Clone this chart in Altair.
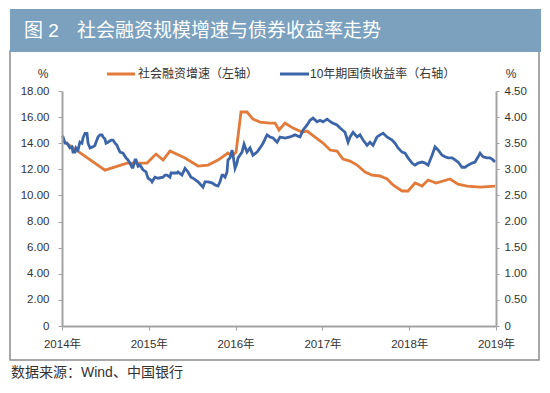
import altair as alt
import pandas as pd

# ---- data ----
# Social financing growth (left axis, %), decimal year positions
orange_t = [2014.000, 2014.495, 2014.749, 2014.979, 2015.083, 2015.164, 2015.244, 2015.417,
            2015.567, 2015.682, 2015.797, 2015.912, 2015.959, 2016.005, 2016.062, 2016.131,
            2016.200, 2016.281, 2016.396, 2016.454, 2016.500, 2016.569, 2016.661, 2016.765,
            2016.823, 2016.915, 2017.007, 2017.088, 2017.168, 2017.237, 2017.318, 2017.399,
            2017.491, 2017.571, 2017.664, 2017.744, 2017.813, 2017.917, 2017.986, 2018.067,
            2018.147, 2018.217, 2018.309, 2018.470, 2018.562, 2018.666, 2018.816, 2018.988]
orange_v = [14.24, 11.94, 12.48, 12.48, 13.17, 12.71, 13.40, 12.86,
            12.25, 12.33, 12.71, 13.25, 13.02, 13.32, 16.39, 16.39,
            15.85, 15.62, 15.54, 15.54, 15.01, 15.54, 15.16, 14.85,
            14.93, 14.47, 14.01, 13.48, 13.40, 12.79, 12.63, 12.33,
            11.79, 11.56, 11.49, 11.26, 10.80, 10.34, 10.34, 10.95,
            10.72, 11.18, 10.95, 11.26, 10.87, 10.72, 10.64, 10.72]

# 10-year government bond yield (right axis, %)
blue_t = [2014.000, 2014.012, 2014.035, 2014.058, 2014.092, 2014.115, 2014.127, 2014.150,
          2014.161, 2014.184, 2014.207, 2014.230, 2014.242, 2014.265, 2014.288, 2014.300,
          2014.323, 2014.357, 2014.380, 2014.392, 2014.415, 2014.438, 2014.461, 2014.472,
          2014.495, 2014.507, 2014.530, 2014.565, 2014.588, 2014.611, 2014.634, 2014.645,
          2014.668, 2014.703, 2014.737, 2014.760, 2014.783, 2014.806, 2014.818, 2014.841,
          2014.853, 2014.876, 2014.899, 2014.933, 2014.968, 2014.979, 2014.991, 2015.025,
          2015.037, 2015.071, 2015.106, 2015.164, 2015.187, 2015.210, 2015.244, 2015.256,
          2015.325, 2015.336, 2015.382, 2015.417, 2015.452, 2015.486, 2015.509, 2015.544,
          2015.567, 2015.601, 2015.624, 2015.647, 2015.682, 2015.728, 2015.763, 2015.797,
          2015.820, 2015.843, 2015.855, 2015.878, 2015.901, 2015.912, 2015.935, 2015.959,
          2015.970, 2015.993, 2016.016, 2016.028, 2016.074, 2016.097, 2016.131, 2016.166,
          2016.200, 2016.247, 2016.281, 2016.316, 2016.362, 2016.396, 2016.431, 2016.477,
          2016.512, 2016.569, 2016.627, 2016.684, 2016.742, 2016.776, 2016.823, 2016.857,
          2016.892, 2016.938, 2016.972, 2017.007, 2017.053, 2017.111, 2017.168, 2017.203,
          2017.260, 2017.295, 2017.318, 2017.353, 2017.399, 2017.433, 2017.468, 2017.514,
          2017.548, 2017.583, 2017.629, 2017.664, 2017.698, 2017.744, 2017.802, 2017.836,
          2017.871, 2017.917, 2017.952, 2017.986, 2018.032, 2018.067, 2018.101, 2018.147,
          2018.182, 2018.217, 2018.263, 2018.297, 2018.332, 2018.378, 2018.412, 2018.447,
          2018.493, 2018.528, 2018.562, 2018.608, 2018.643, 2018.677, 2018.724, 2018.758,
          2018.793, 2018.816, 2018.850, 2018.896, 2018.931, 2018.965, 2018.988]
blue_v = [3.64, 3.62, 3.50, 3.50, 3.41, 3.43, 3.33, 3.33,
          3.41, 3.37, 3.52, 3.50, 3.60, 3.69, 3.69, 3.50,
          3.41, 3.43, 3.46, 3.52, 3.62, 3.66, 3.66, 3.62,
          3.58, 3.50, 3.52, 3.56, 3.56, 3.50, 3.46, 3.41,
          3.33, 3.31, 3.22, 3.18, 3.12, 3.04, 3.04, 3.18,
          3.18, 3.06, 3.08, 2.99, 2.95, 2.89, 2.83, 2.79,
          2.76, 2.85, 2.83, 2.85, 2.89, 2.89, 2.85, 2.93,
          2.93, 2.95, 2.89, 3.02, 2.95, 2.85, 2.83, 2.79,
          2.76, 2.70, 2.66, 2.76, 2.76, 2.74, 2.70, 2.68,
          2.76, 2.89, 2.89, 2.85, 2.95, 3.18, 3.22, 3.37,
          3.27, 3.02, 3.12, 3.22, 3.33, 3.48, 3.33, 3.41,
          3.27, 3.33, 3.41, 3.50, 3.66, 3.62, 3.60, 3.52,
          3.62, 3.60, 3.62, 3.66, 3.62, 3.75, 3.85, 3.94,
          3.98, 3.91, 3.94, 3.91, 3.96, 3.89, 3.85, 3.79,
          3.71, 3.52, 3.62, 3.71, 3.62, 3.66, 3.56, 3.46,
          3.52, 3.46, 3.62, 3.66, 3.69, 3.62, 3.56, 3.50,
          3.41, 3.33, 3.31, 3.22, 3.12, 3.08, 3.12, 3.14,
          3.12, 3.08, 3.27, 3.43, 3.37, 3.27, 3.24, 3.22,
          3.22, 3.18, 3.14, 3.04, 3.04, 3.08, 3.12, 3.14,
          3.24, 3.31, 3.24, 3.22, 3.22, 3.18, 3.14]

orange_name = "社会融资增速（左轴）"
blue_name = "10年期国债收益率（右轴）"
title_fig = "图 2"
title_main = "社会融资规模增速与债券收益率走势"
source_text = "数据来源：Wind、中国银行"
years = [2014, 2015, 2016, 2017, 2018, 2019]


def to_date(t):
    ts = pd.Timestamp("2014-01-01") + pd.Timedelta(days=(t - 2014.0) * 365.25)
    return ts.strftime("%Y-%m-%d %H:%M")


df_o = pd.DataFrame({"date": [to_date(t) for t in orange_t], "v": orange_v})
df_b = pd.DataFrame({"date": [to_date(t) for t in blue_t], "v": blue_v})

FONT = "Liberation Sans, Noto Sans CJK SC, sans-serif"
ORANGE = "#E27A3A"
BLUE = "#3C65A9"
AXIS_GREY = "#A3A3A3"
TXT = "#333333"
W, H = 434, 235

xscale = alt.Scale(domain=[alt.DateTime(year=2014, month=1, date=1),
                           alt.DateTime(year=2019, month=1, date=1)])
xaxis = alt.Axis(values=[alt.DateTime(year=y, month=1, date=1) for y in years],
                 labelExpr="'\u2002\u2002' + timeFormat(datum.value, '%Y') + '年'",
                 grid=False, domainColor=AXIS_GREY, domainWidth=2, tickColor=AXIS_GREY,
                 tickSize=4, labelPadding=8, labelFlush=False, labelFontSize=11.5,
                 labelColor=TXT, labelFont=FONT, title=None, labelOverlap=False, zindex=1)

orange = alt.Chart(df_o).mark_line(color=ORANGE, strokeWidth=2.8, interpolate="linear").encode(
    x=alt.X("date:T", scale=xscale, axis=xaxis),
    y=alt.Y("v:Q", scale=alt.Scale(domain=[0, 18], nice=False, zero=True),
            axis=alt.Axis(orient="left", values=list(range(0, 20, 2)),
                          labelExpr="datum.value == 0 ? '0' : format(datum.value, '.2f')",
                          grid=False, domainColor=AXIS_GREY, domainWidth=2,
                          tickColor=AXIS_GREY, tickSize=4, labelPadding=9,
                          labelFontSize=11.5, labelColor=TXT, labelFont=FONT, title=None,
                          zindex=1)),
)

blue = alt.Chart(df_b).mark_line(color=BLUE, strokeWidth=2.8, interpolate="linear").encode(
    x=alt.X("date:T", scale=xscale, axis=xaxis),
    y=alt.Y("v:Q", scale=alt.Scale(domain=[0, 4.5], nice=False, zero=True),
            axis=alt.Axis(orient="right", values=[0, 0.5, 1, 1.5, 2, 2.5, 3, 3.5, 4, 4.5],
                          labelExpr="datum.value == 0 ? '0' : format(datum.value, '.2f')",
                          grid=False, domainColor=AXIS_GREY, domainWidth=2,
                          tickColor=AXIS_GREY, tickSize=3, labelPadding=5,
                          labelFontSize=11.5, labelColor=TXT, labelFont=FONT, title=None,
                          zindex=1)),
)

one = pd.DataFrame({"k": [0]})

frame = alt.Chart(one).mark_rect(fillOpacity=0, fill="white", stroke="#8C8C8C",
                                 strokeWidth=1.5).encode(
    x=alt.value(-52), x2=alt.value(477), y=alt.value(-40), y2=alt.value(269))
banner = alt.Chart(one).mark_rect(fill="#7BA1BF").encode(
    x=alt.value(-52), x2=alt.value(479), y=alt.value(-82), y2=alt.value(-39))
t_fig = alt.Chart(one).mark_text(align="left", baseline="middle", color="white",
                                 font=FONT, fontSize=19).encode(
    x=alt.value(-38), y=alt.value(-60), text=alt.value(title_fig))
t_main = alt.Chart(one).mark_text(align="left", baseline="middle", color="white",
                                  font=FONT, fontSize=19).encode(
    x=alt.value(15), y=alt.value(-60), text=alt.value(title_main))

leg_o = alt.Chart(one).mark_rule(color=ORANGE, strokeWidth=3).encode(
    x=alt.value(45), x2=alt.value(73), y=alt.value(-17))
leg_o_t = alt.Chart(one).mark_text(align="left", baseline="middle", color=TXT,
                                   font=FONT, fontSize=12).encode(
    x=alt.value(76), y=alt.value(-17), text=alt.value(orange_name))
leg_b = alt.Chart(one).mark_rule(color=BLUE, strokeWidth=3).encode(
    x=alt.value(218), x2=alt.value(247), y=alt.value(-17))
leg_b_t = alt.Chart(one).mark_text(align="left", baseline="middle", color=TXT,
                                   font=FONT, fontSize=12).encode(
    x=alt.value(248), y=alt.value(-17), text=alt.value(blue_name))
pct_l = alt.Chart(one).mark_text(align="center", baseline="middle", color=TXT,
                                 font=FONT, fontSize=12).encode(
    x=alt.value(-19), y=alt.value(-17), text=alt.value("%"))
pct_r = alt.Chart(one).mark_text(align="center", baseline="middle", color=TXT,
                                 font=FONT, fontSize=12).encode(
    x=alt.value(449), y=alt.value(-17), text=alt.value("%"))
src = alt.Chart(one).mark_text(align="left", baseline="middle", color=TXT,
                               font=FONT, fontSize=14).encode(
    x=alt.value(-51), y=alt.value(282), text=alt.value(source_text))

chart = alt.layer(
    frame, banner, t_fig, t_main, orange, blue,
    leg_o, leg_o_t, leg_b, leg_b_t, pct_l, pct_r, src
).resolve_scale(y="independent").properties(
    width=W, height=H,
    autosize=alt.AutoSizeParams(type="none"),
    padding={"left": 54, "top": 83, "right": 46, "bottom": 59},
    background="white",
).configure_view(strokeWidth=0)

chart.save("out.html", embed_options={"renderer": "svg", "actions": False})
